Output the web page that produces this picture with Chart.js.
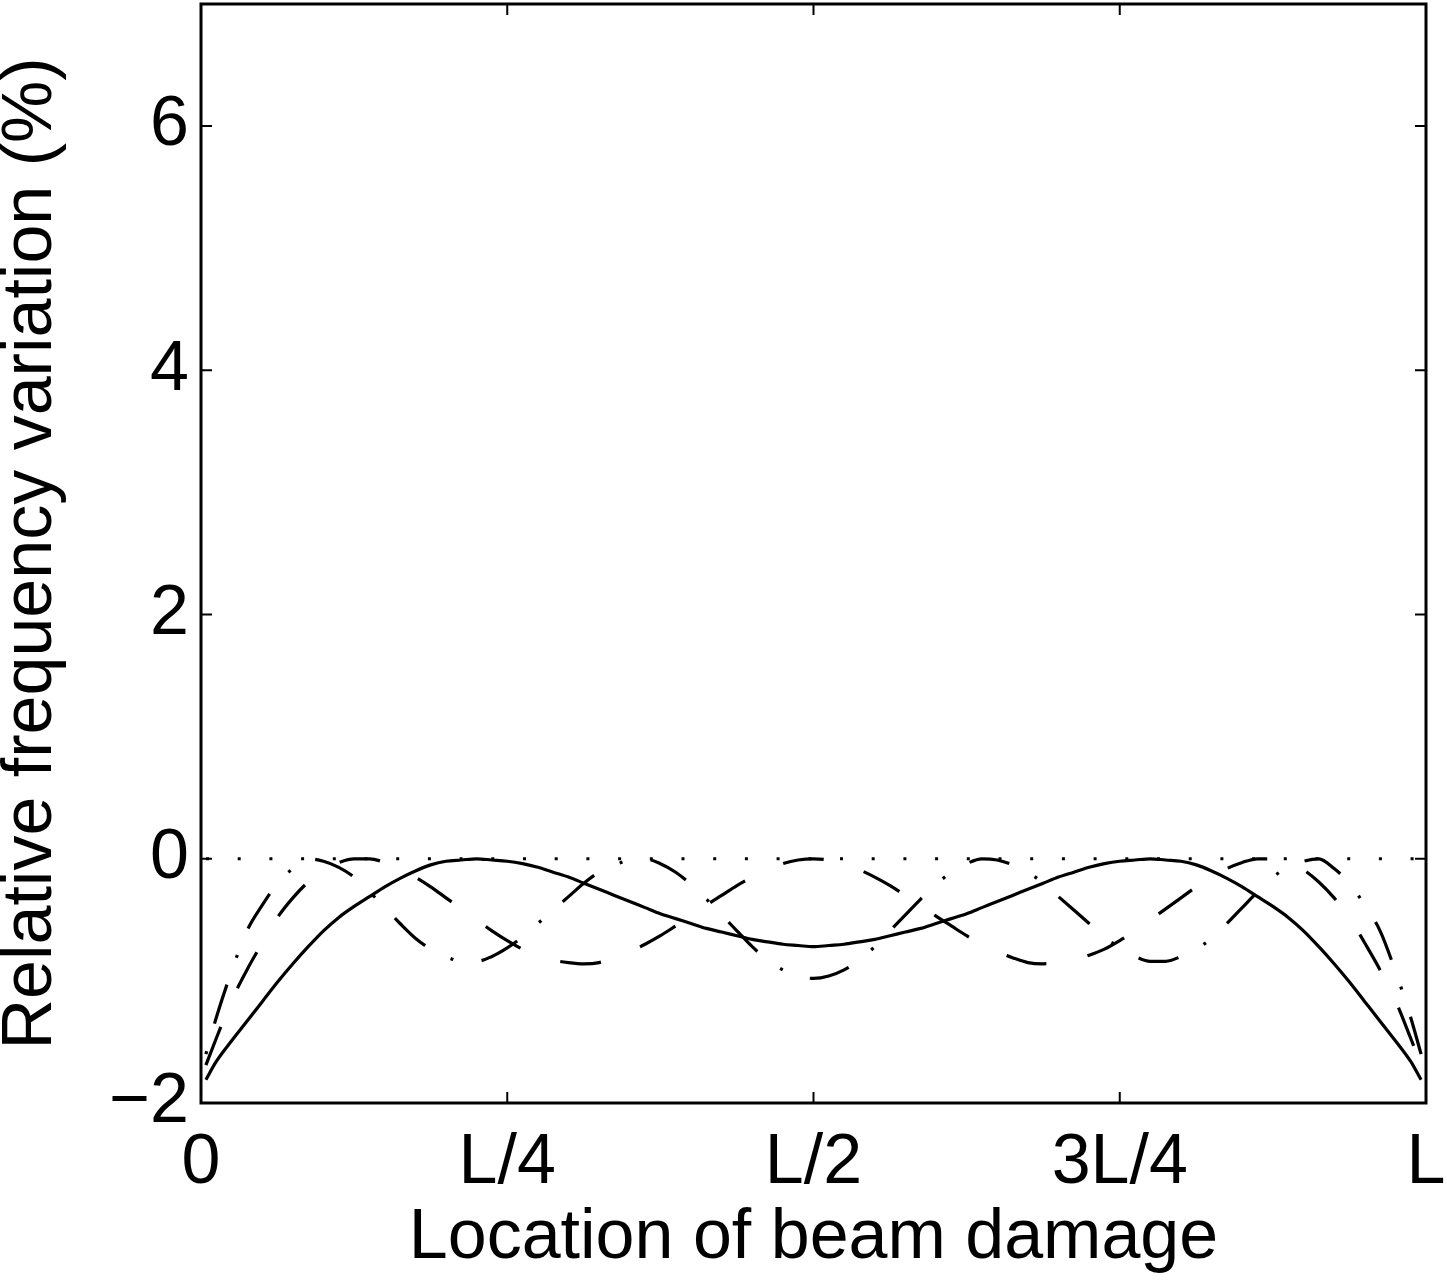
<!DOCTYPE html>
<html>
<head>
<meta charset="utf-8">
<title>Relative frequency variation</title>
<script src="https://cdn.jsdelivr.net/npm/chart.js@4/dist/chart.umd.min.js"></script>
<style>
    html, body { margin: 0; padding: 0; background: #fff; }
    #plot { display: block; }
</style>
</head>
<body>
<canvas id="plot" width="1447" height="1281"></canvas>
<script>
// damage location along the beam, as a fraction of L
const locations = [
    0.004, 0.0125, 0.025, 0.0375, 0.05, 0.0625, 0.075, 0.0875, 0.1, 0.1125,
    0.125, 0.1375, 0.15, 0.1625, 0.175, 0.1875, 0.2, 0.2125, 0.225, 0.2375,
    0.25, 0.2625, 0.275, 0.2875, 0.3, 0.3125, 0.325, 0.3375, 0.35, 0.3625,
    0.375, 0.3875, 0.4, 0.4125, 0.425, 0.4375, 0.45, 0.4625, 0.475, 0.4875,
    0.5, 0.5125, 0.525, 0.5375, 0.55, 0.5625, 0.575, 0.5875, 0.6, 0.6125,
    0.625, 0.6375, 0.65, 0.6625, 0.675, 0.6875, 0.7, 0.7125, 0.725, 0.7375,
    0.75, 0.7625, 0.775, 0.7875, 0.8, 0.8125, 0.825, 0.8375, 0.85, 0.8625,
    0.875, 0.8875, 0.9, 0.9125, 0.925, 0.9375, 0.95, 0.9625, 0.975, 0.9875,
    0.996
];

// relative frequency variation (%) of the first three modes
const mode1 = [
    -1.81, -1.66, -1.49, -1.33, -1.17, -1.01, -0.86, -0.72, -0.59, -0.48,
    -0.39, -0.31, -0.23, -0.16, -0.10, -0.05, -0.02, -0.01, 0.00, -0.01,
    -0.02, -0.04, -0.07, -0.11, -0.15, -0.20, -0.25, -0.30, -0.35, -0.40,
    -0.45, -0.49, -0.53, -0.57, -0.60, -0.63, -0.66, -0.68, -0.70, -0.71,
    -0.72,
    -0.71, -0.70, -0.68, -0.66, -0.63, -0.60, -0.57, -0.53, -0.49, -0.45,
    -0.40, -0.35, -0.30, -0.25, -0.20, -0.15, -0.11, -0.07, -0.04, -0.02,
    -0.01, 0.00, -0.01, -0.02, -0.05, -0.10, -0.16, -0.23, -0.31, -0.39,
    -0.48, -0.59, -0.72, -0.86, -1.01, -1.17, -1.33, -1.49, -1.66, -1.81
];
const mode2 = [
    -1.69, -1.47, -1.16, -0.91, -0.69, -0.48, -0.32, -0.19, -0.09, -0.03,
    0.00, 0.00, -0.03, -0.08, -0.15, -0.23, -0.32, -0.41, -0.50, -0.59,
    -0.67, -0.74, -0.79, -0.83, -0.85, -0.86, -0.85, -0.81, -0.76, -0.70,
    -0.63, -0.55, -0.47, -0.38, -0.30, -0.22, -0.15, -0.09, -0.04, -0.01,
    0.00,
    -0.01, -0.04, -0.09, -0.15, -0.22, -0.30, -0.38, -0.47, -0.55, -0.63,
    -0.70, -0.76, -0.81, -0.85, -0.86, -0.85, -0.83, -0.79, -0.74, -0.67,
    -0.59, -0.50, -0.41, -0.32, -0.23, -0.15, -0.08, -0.03, 0.00, 0.00,
    -0.03, -0.09, -0.19, -0.32, -0.48, -0.69, -0.91, -1.16, -1.47, -1.69
];
const mode3 = [
    -1.60, -1.30, -0.92, -0.59, -0.38, -0.20, -0.08, 0.00, -0.02, -0.07,
    -0.15, -0.27, -0.40, -0.53, -0.65, -0.74, -0.80, -0.84, -0.84, -0.80,
    -0.73, -0.64, -0.53, -0.42, -0.31, -0.20, -0.11, -0.05, -0.01, 0.00,
    -0.04, -0.11, -0.21, -0.33, -0.46, -0.59, -0.72, -0.83, -0.91, -0.96,
    -0.98,
    -0.96, -0.91, -0.83, -0.72, -0.59, -0.46, -0.33, -0.21, -0.11, -0.04,
    0.00, -0.01, -0.05, -0.11, -0.20, -0.31, -0.42, -0.53, -0.64, -0.73,
    -0.80, -0.84, -0.84, -0.80, -0.74, -0.65, -0.53, -0.40, -0.27, -0.15,
    -0.07, -0.02, 0.00, -0.08, -0.20, -0.38, -0.59, -0.92, -1.30, -1.60
];

// undamaged reference level
const referenceX = [0, 1];
const referenceY = [0, 0];

const xTickValues = [0, 0.25, 0.5, 0.75, 1];
const xTickLabels = ['0', 'L/4', 'L/2', '3L/4', 'L'];
const yTickValues = [-2, 0, 2, 4, 6];
const yTickLabels = ['\u22122', '0', '2', '4', '6'];

const FONT = "'Liberation Sans', Arial, Helvetica, sans-serif";
const INK = '#000';
const TICK_LEN = 11;

const toPoints = (xs, ys) => xs.map((x, i) => ({ x: x, y: ys[i] }));

// box round the plot with inward tick marks on all four sides
const frameTicks = {
    id: 'frameTicks',
    afterDatasetsDraw(chart) {
        const { ctx, chartArea: a, scales: { x, y } } = chart;
        ctx.save();
        ctx.strokeStyle = INK;
        ctx.lineWidth = 2;
        ctx.beginPath();
        x.ticks.forEach(t => {
            const px = x.getPixelForValue(t.value);
            if (px <= a.left + 2 || px >= a.right - 2) return;
            ctx.moveTo(px, a.bottom); ctx.lineTo(px, a.bottom - TICK_LEN);
            ctx.moveTo(px, a.top); ctx.lineTo(px, a.top + TICK_LEN);
        });
        y.ticks.forEach(t => {
            const py = y.getPixelForValue(t.value);
            if (py <= a.top + 2 || py >= a.bottom - 2) return;
            ctx.moveTo(a.left, py); ctx.lineTo(a.left + TICK_LEN, py);
            ctx.moveTo(a.right, py); ctx.lineTo(a.right - TICK_LEN, py);
        });
        ctx.stroke();
        ctx.lineWidth = 3;
        ctx.strokeRect(a.left, a.top, a.right - a.left, a.bottom - a.top);
        ctx.restore();
    }
};

const lineStyle = {
    borderColor: INK,
    borderWidth: 3.2,
    pointRadius: 0,
    fill: false,
    cubicInterpolationMode: 'monotone'
};

new Chart(document.getElementById('plot'), {
    type: 'line',
    data: {
        datasets: [
            { ...lineStyle, label: 'reference', data: toPoints(referenceX, referenceY), borderWidth: 3, borderDash: [3, 28.7], borderDashOffset: -5, cubicInterpolationMode: 'default', tension: 0 },
            { ...lineStyle, label: 'mode 3', data: toPoints(locations, mode3), borderDash: [3, 28.5, 41, 28.5] },
            { ...lineStyle, label: 'mode 2', data: toPoints(locations, mode2), borderDash: [41, 42] },
            { ...lineStyle, label: 'mode 1', data: toPoints(locations, mode1) }
        ]
    },
    options: {
        responsive: false,
        animation: false,
        devicePixelRatio: 1,
        events: [],
        layout: { padding: { top: 4, right: 21, left: 0, bottom: 0 } },
        plugins: { legend: { display: false }, tooltip: { enabled: false } },
        scales: {
            x: {
                type: 'linear',
                min: 0,
                max: 1,
                grid: { display: false, drawTicks: false },
                border: { display: false },
                afterBuildTicks: scale => { scale.ticks = xTickValues.map(v => ({ value: v })); },
                afterFit: scale => {
                    scale.height = 178;
                    scale.paddingLeft = 0;
                    scale.paddingRight = 0;
                },
                ticks: {
                    autoSkip: false,
                    maxRotation: 0,
                    padding: 19,
                    color: INK,
                    font: { family: FONT, size: 70 },
                    callback: v => xTickLabels[xTickValues.indexOf(v)]
                },
                title: {
                    display: true,
                    text: 'Location of beam damage',
                    color: INK,
                    font: { family: FONT, size: 70 },
                    padding: { top: 0, bottom: 0 }
                }
            },
            y: {
                min: -2,
                max: 7,
                grid: { display: false, drawTicks: false },
                border: { display: false },
                afterBuildTicks: scale => { scale.ticks = yTickValues.map(v => ({ value: v })); },
                afterFit: scale => {
                    scale.width = 201;
                    scale.paddingTop = 0;
                    scale.paddingBottom = 0;
                },
                ticks: {
                    padding: 12,
                    color: INK,
                    font: { family: FONT, size: 70 },
                    callback: v => yTickLabels[yTickValues.indexOf(v)]
                },
                title: {
                    display: true,
                    text: 'Relative frequency variation (%)',
                    color: INK,
                    font: { family: FONT, size: 70, lineHeight: 0.92 },
                    padding: { top: 0, bottom: 0 }
                }
            }
        }
    },
    plugins: [frameTicks]
});
</script>
</body>
</html>
